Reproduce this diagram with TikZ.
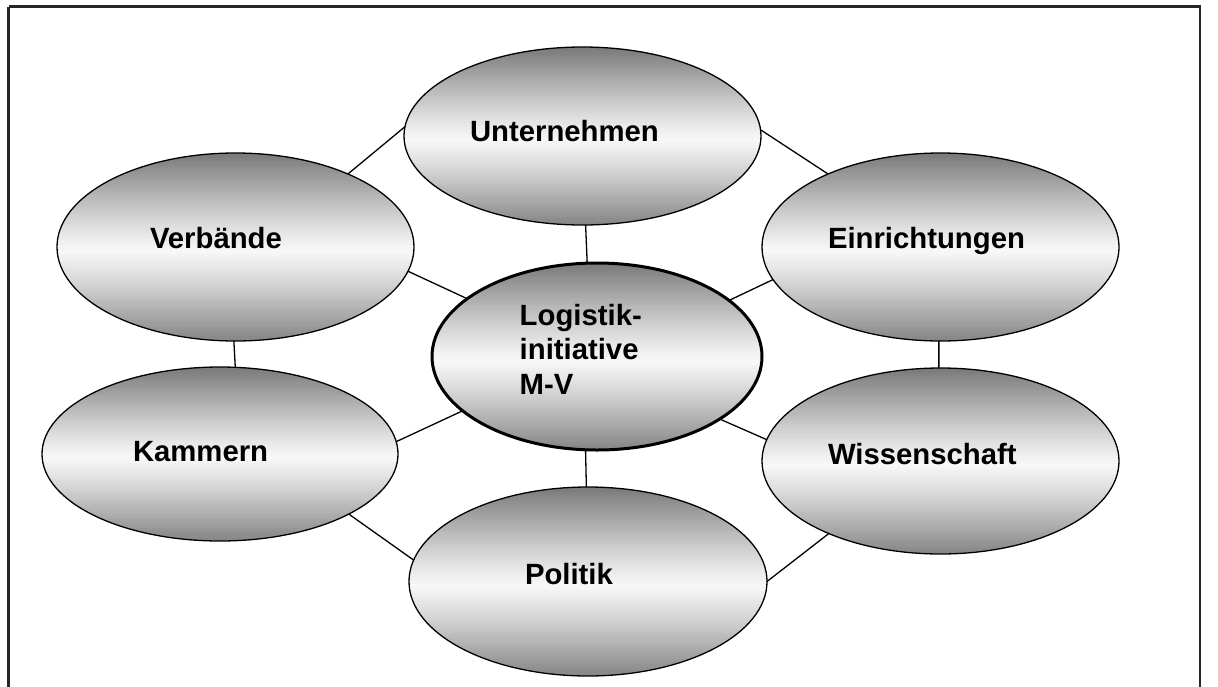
\documentclass[tikz,border=0pt]{standalone}
\usepackage{fontspec}
\setmainfont{Liberation Sans}
\usetikzlibrary{shapes.geometric}
\tikzset{
  bubble/.style={ellipse, draw=black, line width=1.3pt, inner sep=0pt, outer sep=0pt},
  hub/.style={bubble, line width=3pt},
  lbl/.style={inner sep=0pt, outer sep=0pt, font=\fontsize{29.3}{34.8}\selectfont\bfseries},
  link/.style={draw=black, line width=1.3pt}
}
% vertical grey-white-grey gradient inside an ellipse: centre x, centre y, rx, ry
\newcommand\gradell[4]{%
  \begin{scope}
  \clip (#1,#2) ellipse [x radius=#3pt, y radius=#4pt];
  \foreach \i in {0,...,79}{
    \pgfmathsetmacro\gt{(\i+0.5)/80}
    \pgfmathsetmacro\gd{abs(\gt-0.52)/(\gt<0.52 ? 0.52 : 0.48)}
    \pgfmathsetmacro\gp{3+(\gt<0.52 ? 50 : 45)*(\gd^1.15)}
    \pgfmathsetmacro\ya{#2-#4+2*#4*\i/80}
    \pgfmathsetmacro\yb{#2-#4+2*#4*(\i+1.2)/80}
    \fill[black!\gp] ({#1-#3-2},\ya) rectangle ({#1+#3+2},\yb);
  }
  \end{scope}}
\begin{document}
\begin{tikzpicture}[x=1pt,y=-1pt]
\useasboundingbox (0,0) rectangle (1218,686);
\draw[line width=2.2pt, draw=black!85] (8.5,6.5) -- (1200,6.5) -- (1200,700);
\draw[line width=2.2pt, draw=black!85] (8.5,6.5) -- (8.5,700);

% gradient fills
\gradell{582.5}{136}{178.5}{89}
\gradell{235.5}{247}{178.5}{94}
\gradell{940.5}{247}{178.5}{94}
\gradell{597}{356.5}{165}{93.5}
\gradell{220}{454}{178}{87}
\gradell{940.5}{461}{178.5}{93}
\gradell{588}{581.5}{179}{94.5}

% ellipses
\node[bubble, minimum width=357pt, minimum height=178pt] (U) at (582.5,136) {};
\node[bubble, minimum width=357pt, minimum height=188pt] (V) at (235.5,247) {};
\node[bubble, minimum width=357pt, minimum height=188pt] (E) at (940.5,247) {};
\node[hub,    minimum width=330pt, minimum height=187pt] (C) at (597,356.5) {};
\node[bubble, minimum width=356pt, minimum height=174pt] (K) at (220,454) {};
\node[bubble, minimum width=357pt, minimum height=186pt] (W) at (940.5,461) {};
\node[bubble, minimum width=358pt, minimum height=189pt] (P) at (588,581.5) {};

% connectors
\draw[link] (U.177) -- (V.33);
\draw[link] (U.2.6) -- (E.147.8);
\draw[link] (U.272) -- (C.96.9);
\draw[link] (V.-8.2) -- (C.156.1);
\draw[link] (E.191.5) -- (C.23.5);
\draw[link] (V.269) -- (K.80.9);
\draw[link] (E.269) -- (W.91);
\draw[link] (K.4.9) -- (C.202.4);
\draw[link] (W.173.6) -- (C.-27.3);
\draw[link] (C.263.3) -- (P.91.2);
\draw[link] (K.335.3) -- (P.173.1);
\draw[link] (W.213.6) -- (P.0.8);

% labels
\node[lbl, anchor=base west] (Ut) at (470,141) {Unternehmen};
\node[lbl, anchor=base west] (Vt) at (150,248) {Verbände};
\node[lbl, anchor=base west] (Et) at (828,248) {Einrichtungen};
\node[lbl, anchor=base west] (Kt) at (133,461.7) {Kammern};
\node[lbl, anchor=base west] (Wt) at (828,464) {Wissenschaft};
\node[lbl, anchor=base west] (Pt) at (525,584) {Politik};
\node[lbl, anchor=north west, align=left] (Ct) at (519.7,303.8) {Logistik-\\initiative\\M-V};
\end{tikzpicture}
\end{document}
